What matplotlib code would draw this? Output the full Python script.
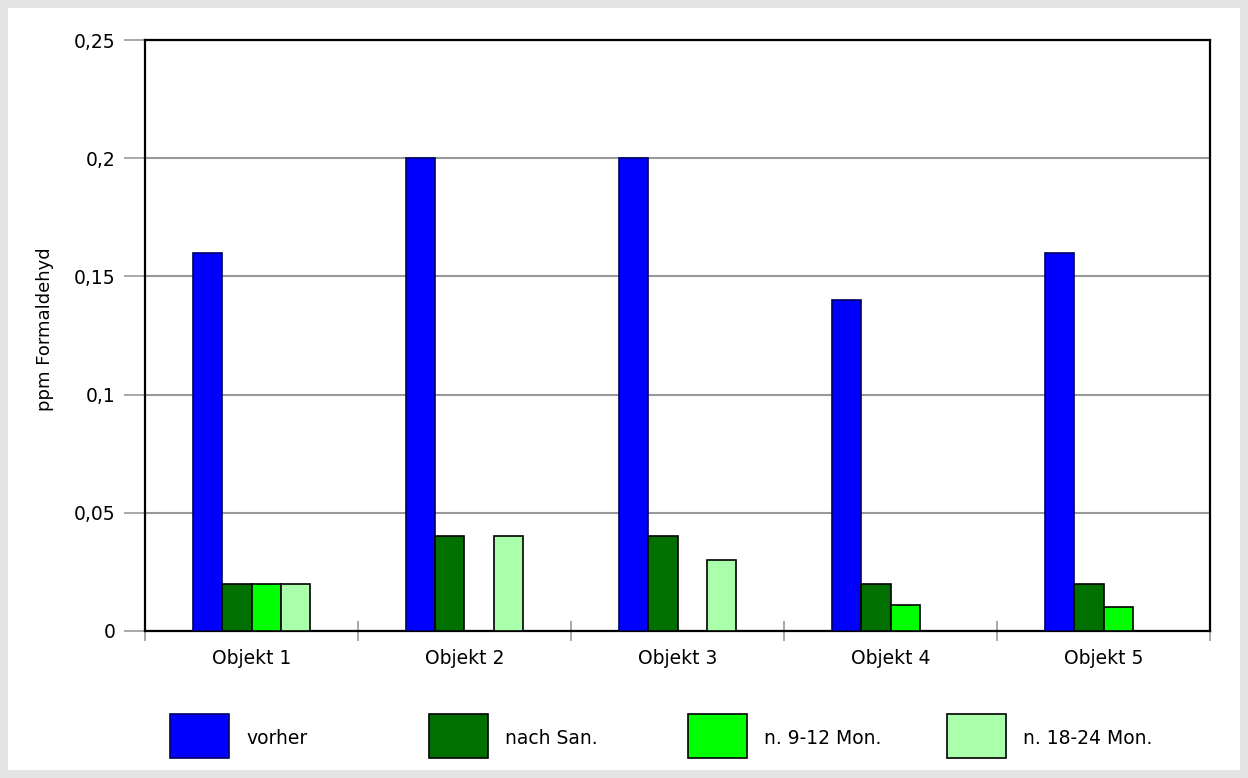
import numpy as np
import matplotlib.pyplot as plt
from matplotlib.patches import Rectangle

plt.rcParams['font.family'] = ['DejaVu Sans']

objects = ['Objekt 1', 'Objekt 2', 'Objekt 3', 'Objekt 4', 'Objekt 5']
series_names = ['vorher', 'nach San.', 'n. 9-12 Mon.', 'n. 18-24 Mon.']
vorher = [0.16, 0.20, 0.20, 0.14, 0.16]
nach_san = [0.02, 0.04, 0.04, 0.02, 0.02]
n_9_12 = [0.02, np.nan, np.nan, 0.011, 0.01]
n_18_24 = [0.02, 0.04, 0.03, np.nan, np.nan]
y_ticks = [0, 0.05, 0.1, 0.15, 0.2, 0.25]
y_tick_labels = ['0', '0,05', '0,1', '0,15', '0,2', '0,25']

colors = ['#0000ff', '#007000', '#00ff00', '#aaffaa']
edges = ['#000060', 'black', 'black', 'black']

fig = plt.figure(figsize=(12.48, 7.78), dpi=100, facecolor='#e4e4e4')
fig.add_artist(Rectangle((8 / 1248, 8 / 778), 1232 / 1248, 762 / 778,
                         transform=fig.transFigure, facecolor='white',
                         edgecolor='none', zorder=-10))

ax = fig.add_axes([145 / 1248, 1 - 631 / 778, 1065 / 1248, 591 / 778])
ax.set_facecolor('white')

x = np.arange(len(objects))
bw = 0.137
data = [vorher, nach_san, n_9_12, n_18_24]
for i, vals in enumerate(data):
    ax.bar(x + (i - 1.5) * bw, vals, bw, color=colors[i], edgecolor=edges[i],
           linewidth=1.2, zorder=3)

ax.set_xlim(-0.5, len(objects) - 0.5)
ax.set_ylim(0, 0.25)

ax.set_yticks(y_ticks)
ax.set_yticklabels(y_tick_labels, fontsize=13.5)
ax.yaxis.grid(True, color='#999999', linewidth=1.5, zorder=0)
ax.tick_params(axis='y', length=15, width=1.2, color='#999999', pad=6)

ax.set_xticks(x)
ax.set_xticklabels(objects, fontsize=13.5)
ax.set_xticks(np.arange(-0.5, len(objects)), minor=True)
ax.tick_params(axis='x', which='major', length=0, pad=13)
ax.tick_params(axis='x', which='minor', length=14, width=1.2,
               color='#999999', direction='inout')

for side in ['left', 'right', 'top', 'bottom']:
    ax.spines[side].set_color('black')
    ax.spines[side].set_linewidth(1.6)

ax.set_ylabel('ppm Formaldehyd', fontsize=13)
ax.yaxis.set_label_coords(-0.085, 0.51)

# legend drawn as separate boxes along the bottom
for i, name in enumerate(series_names):
    x0 = (170 + i * 259) / 1248
    fig.add_artist(Rectangle((x0, 1 - 758 / 778), 59 / 1248, 44 / 778,
                             transform=fig.transFigure, facecolor=colors[i],
                             edgecolor=edges[i], linewidth=1.2))
    fig.text(x0 + 76 / 1248, 1 - 739 / 778, name, fontsize=13.5,
             va='center', ha='left')

fig.savefig('out.png', dpi=100, facecolor=fig.get_facecolor())
